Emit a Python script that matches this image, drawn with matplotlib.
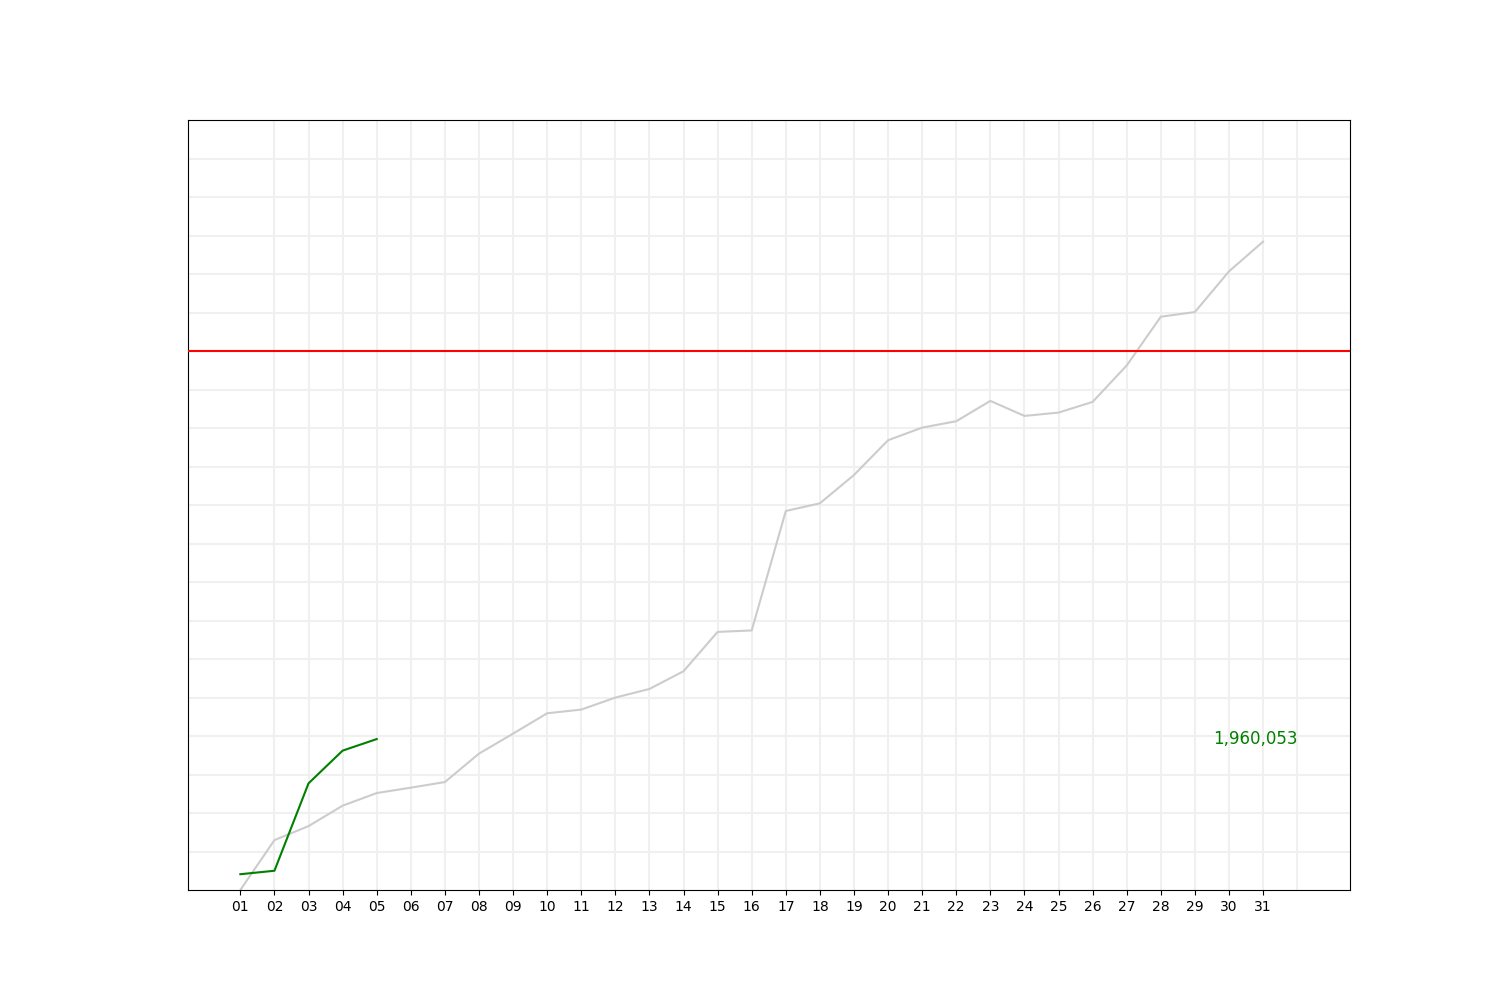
import numpy as np
import matplotlib
matplotlib.use('Agg')
from matplotlib import pyplot as plt

# gunler ve degerler
days = list(range(1, 32))
day_labels = ['%02d' % d for d in days]

# onceki ay (gri)
previous = [0, 648000, 830000, 1095000, 1259000, 1329000, 1402000, 1771000, 2031000,
            2295000, 2343000, 2499000, 2611000, 2841000, 3352000, 3371000, 4922000,
            5022000, 5390000, 5841000, 6005000, 6088000, 6352000, 6157000, 6200000,
            6339000, 6812000, 7445000, 7506000, 8034000, 8420000]

# bu ay (yesil)
current = [205000, 250000, 1385000, 1810000, 1960053]

target = 7000000
y_max = 10000000
grid_step = 500000

fig, ax = plt.subplots(figsize=(15, 10), dpi=100)

# izgara cizgileri
for gx in range(2, 33):
    ax.axvline(gx, color='#f0f0f0', lw=1.5, zorder=0)
for gy in np.arange(grid_step, y_max, grid_step):
    ax.axhline(gy, color='#f0f0f0', lw=1.5, zorder=0)

ax.plot(days, previous, color='#cccccc', lw=1.5, zorder=2)
ax.plot(days[:len(current)], current, color='green', lw=1.5, zorder=3)
ax.axhline(target, color='red', lw=1.5, zorder=3)

ax.text(32, current[-1], '{:,}'.format(current[-1]), color='green',
        fontsize=12, ha='right', va='center')

ax.set_xlim(1 - 0.05 * 31, 32 + 0.05 * 31)
ax.set_ylim(0, y_max)
ax.set_xticks(days)
ax.set_xticklabels(day_labels)
ax.set_yticks([])

plt.savefig('out.png')
